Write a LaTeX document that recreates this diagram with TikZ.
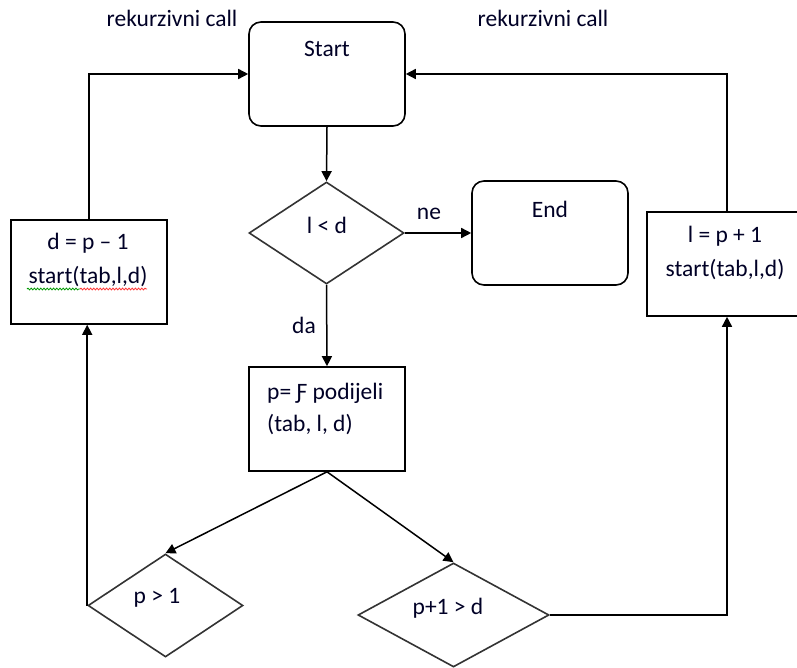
\documentclass[tikz,border=0pt]{standalone}
\usepackage{fontspec}
\setmainfont{Carlito}
\usetikzlibrary{shapes.geometric,arrows.meta,decorations.pathmorphing}
\tikzset{
  box/.style={draw, line width=1.6pt, minimum width=156pt, minimum height=104pt, inner sep=0pt},
  rbox/.style={box, rounded corners=12pt},
  dia/.style={draw=black!80, line width=1.6pt, diamond, inner sep=0pt},
  txt/.style={font=\fontsize{23.5}{28}\selectfont, inner sep=0pt, text=black!85!blue},
  arr/.style={line width=1.5pt, -{Triangle[length=10pt,width=10pt]}},
  squig/.style={line width=0.8pt, decorate, decoration={snake, amplitude=0.9pt, segment length=3.2pt}},
}
\begin{document}
\begin{tikzpicture}[x=1pt,y=-1pt]
\useasboundingbox (0,0) rectangle (797,668);
\fill[white] (0,0) rectangle (797,668);
% shapes
\node[rbox] (start) at (327,74) {};
\node[rbox] (end) at (550,233) {};
\node[box] (left) at (89,272) {};
\node[box, minimum width=160pt] (right) at (727,264) {};
\node[box] (calc) at (327,419) {};
\node[dia, minimum width=155pt, minimum height=102pt] (cond) at (326.5,233) {};
\node[dia, minimum width=155pt, minimum height=103pt] (d1) at (165.5,605.5) {};
\node[dia, minimum width=191pt, minimum height=104pt] (d2) at (453.5,615) {};
% texts
\node[txt] (rekL) at (172,18) {rekurzivni call};
\node[txt] (rekR) at (543,18) {rekurzivni call};
\node[txt] (startT) at (327,49) {Start};
\node[txt] (endT) at (550,209) {End};
\node[txt] (condT) at (327,225) {l < d};
\node[txt] (ne) at (429,214) {ne};
\node[txt] (da) at (304,325) {da};
\node[txt, align=center] (leftT) at (88,260) {d = p – 1\\[6pt]start(tab,l,d)};
\node[txt, align=center] (rightT) at (725,253) {l = p + 1\\[6pt]start(tab,l,d)};
\node[txt, align=left, anchor=west] (calcT) at (267,409) {p= Ƒ podijeli\\[4pt](tab, l, d)};
\node[txt] (d1T) at (157,598) {p > 1};
\node[txt] (d2T) at (448,608) {p+1 > d};
% spell-check marks
\draw[squig, green!60!black] (27,289) -- (80,289);
\draw[squig, red!80!white] (80,289) -- (147,289);
% connectors
\draw[arr] (start.south) -- (cond.north);
\draw[arr] (cond.east) -- (end.west);
\draw[arr] (cond.south) -- (calc.north);
\draw[arr] (calc.south) -- (d1.north);
\draw[arr] (calc.south) -- (d2.north);
\draw[arr] (d1.west) -- (d1.west |- left.south);
\draw[arr] (left.north) |- (start.west);
\draw[arr] (d2.east) -| (right.south);
\draw[arr] (right.north) |- (start.east);
\end{tikzpicture}
\end{document}
